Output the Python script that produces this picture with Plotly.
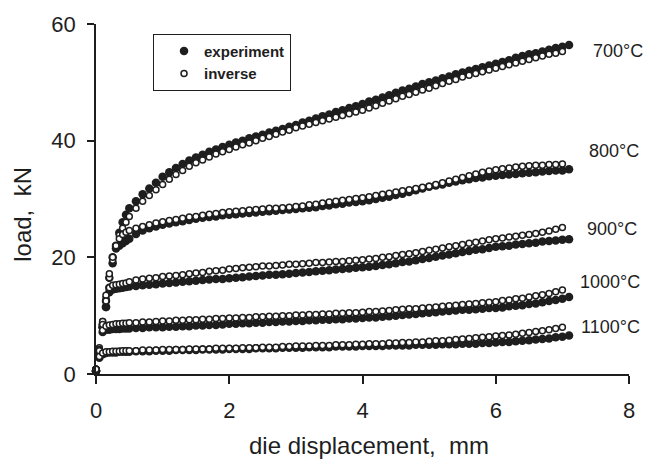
import plotly.graph_objects as go

# die displacement grid (mm)
disp = [0.0, 0.05, 0.1, 0.15, 0.2, 0.25, 0.3, 0.35, 0.4, 0.45, 0.5,
        0.6, 0.7, 0.8, 0.9, 1.0,
        1.1, 1.2, 1.3, 1.4, 1.5, 1.6, 1.7, 1.8, 1.9, 2.0,
        2.1, 2.2, 2.3, 2.4, 2.5, 2.6, 2.7, 2.8, 2.9, 3.0,
        3.1, 3.2, 3.3, 3.4, 3.5, 3.6, 3.7, 3.8, 3.9, 4.0,
        4.1, 4.2, 4.3, 4.4, 4.5, 4.6, 4.7, 4.8, 4.9, 5.0,
        5.1, 5.2, 5.3, 5.4, 5.5, 5.6, 5.7, 5.8, 5.9, 6.0,
        6.1, 6.2, 6.3, 6.4, 6.5, 6.6, 6.7, 6.8, 6.9, 7.0,
        7.1]

temperatures = ["700°C", "800°C", "900°C", "1000°C", "1100°C"]

# experiment load (kN)
exp_700 = [0.5, 3.5, 8.0, 11.5, 14.8, 19.0, 22.0, 24.2, 26.0, 27.3, 28.4,
           29.6, 30.8, 31.8, 32.8, 33.8,
           34.6, 35.3, 36.0, 36.6, 37.1, 37.6, 38.1, 38.5, 38.9, 39.3,
           39.7, 40.0, 40.4, 40.7, 41.0, 41.4, 41.7, 42.0, 42.4, 42.7,
           43.1, 43.4, 43.8, 44.2, 44.5, 44.9, 45.2, 45.6, 45.9, 46.3,
           46.7, 47.0, 47.4, 47.8, 48.2, 48.6, 48.9, 49.3, 49.7, 50.0,
           50.3, 50.7, 51.0, 51.4, 51.7, 52.0, 52.3, 52.6, 52.9, 53.2,
           53.5, 53.8, 54.2, 54.5, 54.8, 55.0, 55.3, 55.6, 55.9, 56.1,
           56.4]
exp_800 = [0.5, 3.8, 8.5, 12.5, 16.5, 20.0, 21.5, 22.0, 22.4, 22.8, 23.2,
           24.0, 24.6, 25.0, 25.3, 25.6,
           25.8, 26.0, 26.2, 26.4, 26.6, 26.8, 26.9, 27.0, 27.2, 27.3,
           27.4, 27.5, 27.6, 27.7, 27.8, 27.9, 28.0, 28.1, 28.2, 28.3,
           28.4, 28.5, 28.6, 28.8, 28.9, 29.1, 29.2, 29.4, 29.5, 29.6,
           29.8, 30.0, 30.2, 30.4, 30.7, 30.9, 31.2, 31.5, 31.8, 32.1,
           32.3, 32.5, 32.8, 33.0, 33.2, 33.4, 33.6, 33.7, 33.9, 34.0,
           34.1, 34.2, 34.3, 34.4, 34.5, 34.6, 34.7, 34.8, 34.9, 34.9,
           35.1]
exp_900 = [0.5, 3.5, 8.0, 11.5, 14.0, 14.5, 14.6, 14.7, 14.8, 14.9, 15.0,
           15.1, 15.2, 15.3, 15.4, 15.5,
           15.6, 15.7, 15.8, 15.9, 16.0, 16.1, 16.2, 16.3, 16.3, 16.4,
           16.5, 16.6, 16.7, 16.8, 16.9, 17.0, 17.0, 17.1, 17.2, 17.3,
           17.4, 17.5, 17.6, 17.7, 17.8, 17.9, 18.0, 18.1, 18.2, 18.3,
           18.4, 18.5, 18.7, 18.8, 19.0, 19.2, 19.3, 19.5, 19.7, 19.9,
           20.1, 20.3, 20.5, 20.7, 20.9, 21.1, 21.3, 21.4, 21.6, 21.8,
           21.9, 22.0, 22.2, 22.3, 22.4, 22.5, 22.7, 22.8, 22.9, 23.0,
           23.1]
exp_1000 = [0.5, 3.5, 7.2, 7.6, 7.6, 7.7, 7.7, 7.7, 7.8, 7.8, 7.8,
            7.9, 7.9, 8.0, 8.0, 8.0,
            8.1, 8.1, 8.2, 8.2, 8.3, 8.3, 8.4, 8.4, 8.5, 8.6,
            8.6, 8.7, 8.7, 8.8, 8.8, 8.9, 8.9, 9.0, 9.0, 9.1,
            9.1, 9.2, 9.2, 9.3, 9.3, 9.4, 9.4, 9.5, 9.5, 9.6,
            9.7, 9.7, 9.8, 9.9, 10.0, 10.1, 10.2, 10.3, 10.4, 10.5,
            10.6, 10.7, 10.8, 10.9, 11.0, 11.0, 11.1, 11.2, 11.3, 11.3,
            11.4, 11.6, 11.7, 11.8, 12.0, 12.1, 12.3, 12.5, 12.7, 12.9,
            13.2]
exp_1100 = [0.5, 2.8, 3.4, 3.6, 3.7, 3.7, 3.7, 3.8, 3.8, 3.8, 3.8,
            3.9, 3.9, 3.9, 4.0, 4.0,
            4.0, 4.1, 4.1, 4.1, 4.1, 4.2, 4.2, 4.2, 4.2, 4.3,
            4.3, 4.3, 4.3, 4.4, 4.4, 4.4, 4.4, 4.5, 4.5, 4.5,
            4.5, 4.6, 4.6, 4.6, 4.6, 4.7, 4.7, 4.7, 4.7, 4.8,
            4.8, 4.8, 4.8, 4.9, 4.9, 4.9, 4.9, 5.0, 5.0, 5.0,
            5.0, 5.1, 5.1, 5.1, 5.2, 5.2, 5.2, 5.3, 5.3, 5.4,
            5.5, 5.5, 5.6, 5.7, 5.8, 5.9, 6.0, 6.1, 6.3, 6.4,
            6.6]

# inverse-analysis load (kN)
inv_700 = [0.8, 4.5, 9.0, 13.0, 16.5, 19.5, 22.0, 23.8, 25.0, 26.0, 27.0,
           28.4, 29.6, 30.6, 31.6, 32.5,
           33.4, 34.2, 34.9, 35.6, 36.2, 36.7, 37.2, 37.7, 38.1, 38.5,
           38.9, 39.3, 39.6, 40.0, 40.4, 40.7, 41.1, 41.5, 41.8, 42.2,
           42.5, 42.8, 43.1, 43.4, 43.7, 44.0, 44.3, 44.6, 44.9, 45.2,
           45.6, 46.0, 46.4, 46.8, 47.2, 47.6, 47.9, 48.3, 48.7, 49.0,
           49.4, 49.8, 50.2, 50.5, 50.9, 51.2, 51.5, 51.8, 52.1, 52.4,
           52.7, 53.0, 53.3, 53.6, 53.9, 54.2, 54.5, 54.8, 55.0, 55.3]
inv_800 = [0.8, 4.2, 9.0, 13.5, 17.2, 20.0, 22.0, 23.2, 23.9, 24.3, 24.6,
           25.0, 25.3, 25.6, 25.9, 26.1,
           26.3, 26.5, 26.7, 26.9, 27.0, 27.2, 27.4, 27.5, 27.7, 27.8,
           27.9, 28.0, 28.1, 28.2, 28.3, 28.4, 28.4, 28.5, 28.6, 28.7,
           28.8, 29.0, 29.1, 29.3, 29.5, 29.6, 29.8, 29.9, 30.1, 30.2,
           30.4, 30.6, 30.8, 31.0, 31.2, 31.4, 31.6, 31.8, 32.0, 32.2,
           32.5, 32.8, 33.1, 33.4, 33.7, 34.0, 34.3, 34.6, 34.8, 35.0,
           35.2, 35.3, 35.5, 35.6, 35.7, 35.8, 35.8, 35.9, 35.9, 36.0]
inv_900 = [0.8, 4.0, 8.5, 12.5, 14.8, 15.2, 15.3, 15.4, 15.5, 15.6, 15.8,
           16.1, 16.3, 16.4, 16.5, 16.7,
           16.8, 16.9, 17.0, 17.2, 17.3, 17.4, 17.6, 17.7, 17.8, 18.0,
           18.1, 18.2, 18.3, 18.4, 18.5, 18.5, 18.6, 18.7, 18.8, 18.8,
           18.9, 19.0, 19.1, 19.1, 19.2, 19.3, 19.3, 19.4, 19.5, 19.6,
           19.7, 19.8, 20.0, 20.1, 20.3, 20.5, 20.6, 20.8, 21.0, 21.2,
           21.4, 21.6, 21.8, 22.0, 22.2, 22.4, 22.6, 22.8, 23.0, 23.2,
           23.3, 23.5, 23.6, 23.8, 23.9, 24.1, 24.3, 24.5, 24.8, 25.1]
inv_1000 = [0.8, 4.0, 7.5, 8.2, 8.4, 8.5, 8.6, 8.6, 8.7, 8.7, 8.8,
            8.8, 8.9, 8.9, 9.0, 9.1,
            9.1, 9.2, 9.2, 9.3, 9.3, 9.4, 9.4, 9.5, 9.5, 9.6,
            9.6, 9.7, 9.7, 9.8, 9.8, 9.9, 9.9, 10.0, 10.0, 10.1,
            10.1, 10.2, 10.2, 10.3, 10.3, 10.4, 10.4, 10.5, 10.5, 10.6,
            10.7, 10.7, 10.8, 10.9, 11.0, 11.1, 11.2, 11.2, 11.3, 11.4,
            11.5, 11.6, 11.7, 11.8, 11.9, 12.0, 12.1, 12.2, 12.3, 12.4,
            12.6, 12.7, 12.9, 13.0, 13.2, 13.4, 13.6, 13.8, 14.1, 14.4]
inv_1100 = [0.8, 3.0, 3.6, 3.8, 3.8, 3.9, 3.9, 3.9, 4.0, 4.0, 4.0,
            4.0, 4.1, 4.1, 4.1, 4.2,
            4.2, 4.2, 4.2, 4.3, 4.3, 4.3, 4.3, 4.4, 4.4, 4.4,
            4.4, 4.5, 4.5, 4.5, 4.6, 4.6, 4.6, 4.7, 4.7, 4.8,
            4.8, 4.8, 4.9, 4.9, 4.9, 5.0, 5.0, 5.0, 5.1, 5.1,
            5.2, 5.2, 5.2, 5.3, 5.3, 5.4, 5.4, 5.5, 5.5, 5.6,
            5.7, 5.7, 5.8, 5.9, 6.0, 6.1, 6.2, 6.3, 6.4, 6.5,
            6.6, 6.7, 6.8, 7.0, 7.1, 7.3, 7.4, 7.6, 7.8, 8.0]

x_ticks = [0, 2, 4, 6, 8]
y_ticks = [0, 20, 40, 60]

experiment = [exp_700, exp_800, exp_900, exp_1000, exp_1100]
inverse = [inv_700, inv_800, inv_900, inv_1000, inv_1100]

# anchor points (data coords) of the temperature labels
label_x = [7.83, 7.77, 7.75, 7.72, 7.72]
label_y = [55.4, 38.3, 24.9, 15.8, 8.0]

FONT = "Liberation Sans, Arial, sans-serif"
INK = "#1e1e1e"

fig = go.Figure()

for i, ys in enumerate(experiment):
    fig.add_trace(go.Scatter(
        x=disp[:len(ys)], y=ys, mode="markers", name="experiment",
        legendgroup="experiment", showlegend=(i == 0),
        marker=dict(symbol="circle", size=8.5, color=INK, line=dict(width=0)),
        cliponaxis=False,
    ))

for i, ys in enumerate(inverse):
    fig.add_trace(go.Scatter(
        x=disp[:len(ys)], y=ys, mode="markers", name="inverse",
        legendgroup="inverse", showlegend=(i == 0),
        marker=dict(symbol="circle", size=6, color="white",
                    line=dict(width=1.5, color=INK)),
        cliponaxis=False,
    ))

annotations = []
for t, lx, ly in zip(temperatures, label_x, label_y):
    annotations.append(dict(x=lx, y=ly, xref="x", yref="y", text=t,
                            showarrow=False, xanchor="center", yanchor="middle",
                            font=dict(family=FONT, size=18, color=INK)))

annotations.append(dict(text="die displacement,\u00a0\u00a0mm", xref="paper", yref="paper",
                        x=0.512, y=0, xanchor="center", yanchor="top", yshift=-56,
                        showarrow=False, font=dict(family=FONT, size=24, color=INK)))
annotations.append(dict(text="load,\u00a0\u00a0kN", xref="paper", yref="paper",
                        x=0, y=0.455, xanchor="center", yanchor="middle", xshift=-73,
                        textangle=-90, showarrow=False,
                        font=dict(family=FONT, size=24, color=INK)))

fig.update_layout(
    width=647, height=464,
    margin=dict(l=96, r=18, t=20, b=90),
    paper_bgcolor="white", plot_bgcolor="white",
    font=dict(family=FONT, color=INK),
    showlegend=True,
    legend=dict(x=0.107, y=0.972, xanchor="left", yanchor="top",
                bordercolor=INK, borderwidth=1, bgcolor="white",
                font=dict(family=FONT, size=15, color=INK, weight="bold"),
                tracegroupgap=0, indentation=10,
                entrywidth=100, entrywidthmode="pixels"),
    annotations=annotations,
)

fig.update_xaxes(range=[0, 8], tickvals=x_ticks, ticks="outside", ticklen=8,
                 tickwidth=1.5, tickcolor=INK, showline=True, linecolor=INK,
                 linewidth=1.5, showgrid=False, zeroline=False,
                 ticklabelstandoff=8,
                 tickfont=dict(family=FONT, size=22, color=INK))
fig.update_yaxes(range=[0, 60], tickvals=y_ticks, ticks="outside", ticklen=7,
                 tickwidth=1.5, tickcolor=INK, showline=True, linecolor=INK,
                 linewidth=1.5, showgrid=False, zeroline=False,
                 ticklabelstandoff=7,
                 tickfont=dict(family=FONT, size=22, color=INK))

fig.write_html("out.html", config={"displayModeBar": False},
               post_script="document.body.style.margin='0';")
